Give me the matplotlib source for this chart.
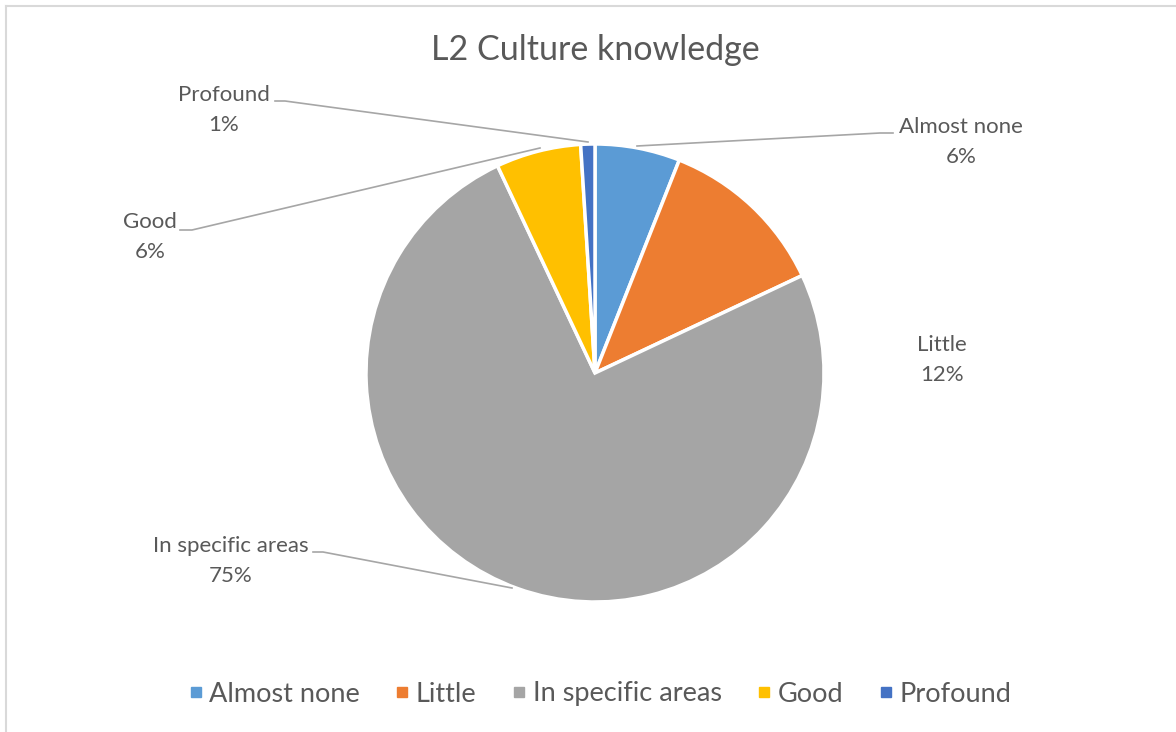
import matplotlib
matplotlib.use("Agg")
import matplotlib.pyplot as plt
from matplotlib.lines import Line2D

plt.rcParams['font.family'] = ['Lato', 'DejaVu Sans']

categories = ["Almost none", "Little", "In specific areas", "Good", "Profound"]
shares = [6, 12, 75, 6, 1]
colors = ["#5B9BD5", "#ED7D31", "#A5A5A5", "#FFC000", "#4472C4"]

text_color = "#595959"
line_color = "#A6A6A6"

W, H = 1176, 732
fig = plt.figure(figsize=(W / 100, H / 100), dpi=100)

# pie centre and radius in pixels
cx, cy, r = 595, 373, 229
ax = fig.add_axes([(cx - r) / W, (H - cy - r) / H, 2 * r / W, 2 * r / H])
wedges, _ = ax.pie(shares, colors=colors, startangle=90, counterclock=False,
                   radius=1, wedgeprops=dict(edgecolor="white", linewidth=2.5))
ax.set_xlim(-1, 1)
ax.set_ylim(-1, 1)
ax.set_aspect("auto")
ax.axis("off")


def px(x, y):
    return (x - cx) / r, (cy - y) / r


# data labels (pixel centres) and leader lines
label_pos = {
    "Almost none": (961, 142),
    "Little": (942, 360),
    "In specific areas": (231, 561),
    "Good": (150, 237),
    "Profound": (224, 110),
}
leaders = {
    "Almost none": [(893, 133), (880, 133), (637, 146)],
    "In specific areas": [(313, 552), (323, 552), (512, 588)],
    "Good": [(180, 230), (192, 230), (540, 148)],
    "Profound": [(275, 101), (285, 101), (588, 142)],
}

for name, val in zip(categories, shares):
    x, y = px(*label_pos[name])
    ax.text(x, y, f"{name}\n{val}%", ha="center", va="center", fontsize=16,
            color=text_color, linespacing=1.65, clip_on=False)
    if name in leaders:
        pts = [px(*p) for p in leaders[name]]
        ax.plot([p[0] for p in pts], [p[1] for p in pts], color=line_color,
                lw=1.2, clip_on=False)

fig.text(595 / W, 1 - 50 / H, "L2 Culture knowledge", ha="center", va="center",
         fontsize=24.5, color=text_color)

handles = [Line2D([], [], ls="none", marker="s", markersize=7, color=c)
           for c in colors]
fig.legend(handles, categories, loc="center", bbox_to_anchor=(600 / W, 1 - 694 / H),
           ncol=5, frameon=False, fontsize=19.5, labelcolor=text_color,
           handlelength=0.5, handletextpad=0.25, columnspacing=1.32)

# chart area border
fig.add_artist(Line2D([6 / W, 6 / W], [0, 1 - 6 / H], transform=fig.transFigure,
                      color="#D9D9D9", lw=1.5))
fig.add_artist(Line2D([6 / W, 1], [1 - 6 / H, 1 - 6 / H], transform=fig.transFigure,
                      color="#D9D9D9", lw=1.5))

fig.savefig("out.png", dpi=100, facecolor="white")
